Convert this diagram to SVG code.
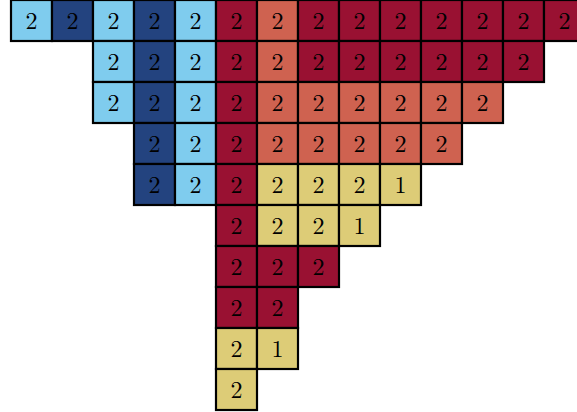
<svg xmlns="http://www.w3.org/2000/svg" width="577" height="412" viewBox="0 0 577 412">
<style>
rect{stroke:#000;stroke-width:2.2}
.lb{fill:#7FCCEE}.db{fill:#23437F}.cr{fill:#991132}.sa{fill:#CF6250}.ye{fill:#DDCC77}
text{font-family:"Latin Modern Roman","Liberation Serif","DejaVu Serif",serif;font-size:24px;text-anchor:middle;fill:#000}
</style>
<rect width="577" height="412" fill="#fff" style="stroke:none"/>
<g id="row0">
<g id="c0_0"><rect class="lb" x="11" y="0" width="41" height="41"/><text x="31.5" y="28.5">2</text></g>
<g id="c0_1"><rect class="db" x="52" y="0" width="41" height="41"/><text x="72.5" y="28.5">2</text></g>
<g id="c0_2"><rect class="lb" x="93" y="0" width="41" height="41"/><text x="113.5" y="28.5">2</text></g>
<g id="c0_3"><rect class="db" x="134" y="0" width="41" height="41"/><text x="154.5" y="28.5">2</text></g>
<g id="c0_4"><rect class="lb" x="175" y="0" width="41" height="41"/><text x="195.5" y="28.5">2</text></g>
<g id="c0_5"><rect class="cr" x="216" y="0" width="41" height="41"/><text x="236.5" y="28.5">2</text></g>
<g id="c0_6"><rect class="sa" x="257" y="0" width="41" height="41"/><text x="277.5" y="28.5">2</text></g>
<g id="c0_7"><rect class="cr" x="298" y="0" width="41" height="41"/><text x="318.5" y="28.5">2</text></g>
<g id="c0_8"><rect class="cr" x="339" y="0" width="41" height="41"/><text x="359.5" y="28.5">2</text></g>
<g id="c0_9"><rect class="cr" x="380" y="0" width="41" height="41"/><text x="400.5" y="28.5">2</text></g>
<g id="c0_10"><rect class="cr" x="421" y="0" width="41" height="41"/><text x="441.5" y="28.5">2</text></g>
<g id="c0_11"><rect class="cr" x="462" y="0" width="41" height="41"/><text x="482.5" y="28.5">2</text></g>
<g id="c0_12"><rect class="cr" x="503" y="0" width="41" height="41"/><text x="523.5" y="28.5">2</text></g>
<g id="c0_13"><rect class="cr" x="544" y="0" width="41" height="41"/><text x="564.5" y="28.5">2</text></g>
</g>
<g id="row1">
<g id="c1_2"><rect class="lb" x="93" y="41" width="41" height="41"/><text x="113.5" y="69.5">2</text></g>
<g id="c1_3"><rect class="db" x="134" y="41" width="41" height="41"/><text x="154.5" y="69.5">2</text></g>
<g id="c1_4"><rect class="lb" x="175" y="41" width="41" height="41"/><text x="195.5" y="69.5">2</text></g>
<g id="c1_5"><rect class="cr" x="216" y="41" width="41" height="41"/><text x="236.5" y="69.5">2</text></g>
<g id="c1_6"><rect class="sa" x="257" y="41" width="41" height="41"/><text x="277.5" y="69.5">2</text></g>
<g id="c1_7"><rect class="cr" x="298" y="41" width="41" height="41"/><text x="318.5" y="69.5">2</text></g>
<g id="c1_8"><rect class="cr" x="339" y="41" width="41" height="41"/><text x="359.5" y="69.5">2</text></g>
<g id="c1_9"><rect class="cr" x="380" y="41" width="41" height="41"/><text x="400.5" y="69.5">2</text></g>
<g id="c1_10"><rect class="cr" x="421" y="41" width="41" height="41"/><text x="441.5" y="69.5">2</text></g>
<g id="c1_11"><rect class="cr" x="462" y="41" width="41" height="41"/><text x="482.5" y="69.5">2</text></g>
<g id="c1_12"><rect class="cr" x="503" y="41" width="41" height="41"/><text x="523.5" y="69.5">2</text></g>
</g>
<g id="row2">
<g id="c2_2"><rect class="lb" x="93" y="82" width="41" height="41"/><text x="113.5" y="110.5">2</text></g>
<g id="c2_3"><rect class="db" x="134" y="82" width="41" height="41"/><text x="154.5" y="110.5">2</text></g>
<g id="c2_4"><rect class="lb" x="175" y="82" width="41" height="41"/><text x="195.5" y="110.5">2</text></g>
<g id="c2_5"><rect class="cr" x="216" y="82" width="41" height="41"/><text x="236.5" y="110.5">2</text></g>
<g id="c2_6"><rect class="sa" x="257" y="82" width="41" height="41"/><text x="277.5" y="110.5">2</text></g>
<g id="c2_7"><rect class="sa" x="298" y="82" width="41" height="41"/><text x="318.5" y="110.5">2</text></g>
<g id="c2_8"><rect class="sa" x="339" y="82" width="41" height="41"/><text x="359.5" y="110.5">2</text></g>
<g id="c2_9"><rect class="sa" x="380" y="82" width="41" height="41"/><text x="400.5" y="110.5">2</text></g>
<g id="c2_10"><rect class="sa" x="421" y="82" width="41" height="41"/><text x="441.5" y="110.5">2</text></g>
<g id="c2_11"><rect class="sa" x="462" y="82" width="41" height="41"/><text x="482.5" y="110.5">2</text></g>
</g>
<g id="row3">
<g id="c3_3"><rect class="db" x="134" y="123" width="41" height="41"/><text x="154.5" y="151.5">2</text></g>
<g id="c3_4"><rect class="lb" x="175" y="123" width="41" height="41"/><text x="195.5" y="151.5">2</text></g>
<g id="c3_5"><rect class="cr" x="216" y="123" width="41" height="41"/><text x="236.5" y="151.5">2</text></g>
<g id="c3_6"><rect class="sa" x="257" y="123" width="41" height="41"/><text x="277.5" y="151.5">2</text></g>
<g id="c3_7"><rect class="sa" x="298" y="123" width="41" height="41"/><text x="318.5" y="151.5">2</text></g>
<g id="c3_8"><rect class="sa" x="339" y="123" width="41" height="41"/><text x="359.5" y="151.5">2</text></g>
<g id="c3_9"><rect class="sa" x="380" y="123" width="41" height="41"/><text x="400.5" y="151.5">2</text></g>
<g id="c3_10"><rect class="sa" x="421" y="123" width="41" height="41"/><text x="441.5" y="151.5">2</text></g>
</g>
<g id="row4">
<g id="c4_3"><rect class="db" x="134" y="164" width="41" height="41"/><text x="154.5" y="192.5">2</text></g>
<g id="c4_4"><rect class="lb" x="175" y="164" width="41" height="41"/><text x="195.5" y="192.5">2</text></g>
<g id="c4_5"><rect class="cr" x="216" y="164" width="41" height="41"/><text x="236.5" y="192.5">2</text></g>
<g id="c4_6"><rect class="ye" x="257" y="164" width="41" height="41"/><text x="277.5" y="192.5">2</text></g>
<g id="c4_7"><rect class="ye" x="298" y="164" width="41" height="41"/><text x="318.5" y="192.5">2</text></g>
<g id="c4_8"><rect class="ye" x="339" y="164" width="41" height="41"/><text x="359.5" y="192.5">2</text></g>
<g id="c4_9"><rect class="ye" x="380" y="164" width="41" height="41"/><text x="400.5" y="192.5">1</text></g>
</g>
<g id="row5">
<g id="c5_5"><rect class="cr" x="216" y="205" width="41" height="41"/><text x="236.5" y="233.5">2</text></g>
<g id="c5_6"><rect class="ye" x="257" y="205" width="41" height="41"/><text x="277.5" y="233.5">2</text></g>
<g id="c5_7"><rect class="ye" x="298" y="205" width="41" height="41"/><text x="318.5" y="233.5">2</text></g>
<g id="c5_8"><rect class="ye" x="339" y="205" width="41" height="41"/><text x="359.5" y="233.5">1</text></g>
</g>
<g id="row6">
<g id="c6_5"><rect class="cr" x="216" y="246" width="41" height="41"/><text x="236.5" y="274.5">2</text></g>
<g id="c6_6"><rect class="cr" x="257" y="246" width="41" height="41"/><text x="277.5" y="274.5">2</text></g>
<g id="c6_7"><rect class="cr" x="298" y="246" width="41" height="41"/><text x="318.5" y="274.5">2</text></g>
</g>
<g id="row7">
<g id="c7_5"><rect class="cr" x="216" y="287" width="41" height="41"/><text x="236.5" y="315.5">2</text></g>
<g id="c7_6"><rect class="cr" x="257" y="287" width="41" height="41"/><text x="277.5" y="315.5">2</text></g>
</g>
<g id="row8">
<g id="c8_5"><rect class="ye" x="216" y="328" width="41" height="41"/><text x="236.5" y="356.5">2</text></g>
<g id="c8_6"><rect class="ye" x="257" y="328" width="41" height="41"/><text x="277.5" y="356.5">1</text></g>
</g>
<g id="row9">
<g id="c9_5"><rect class="ye" x="216" y="369" width="41" height="41"/><text x="236.5" y="397.5">2</text></g>
</g>
<g id="connectors"/>
</svg>
